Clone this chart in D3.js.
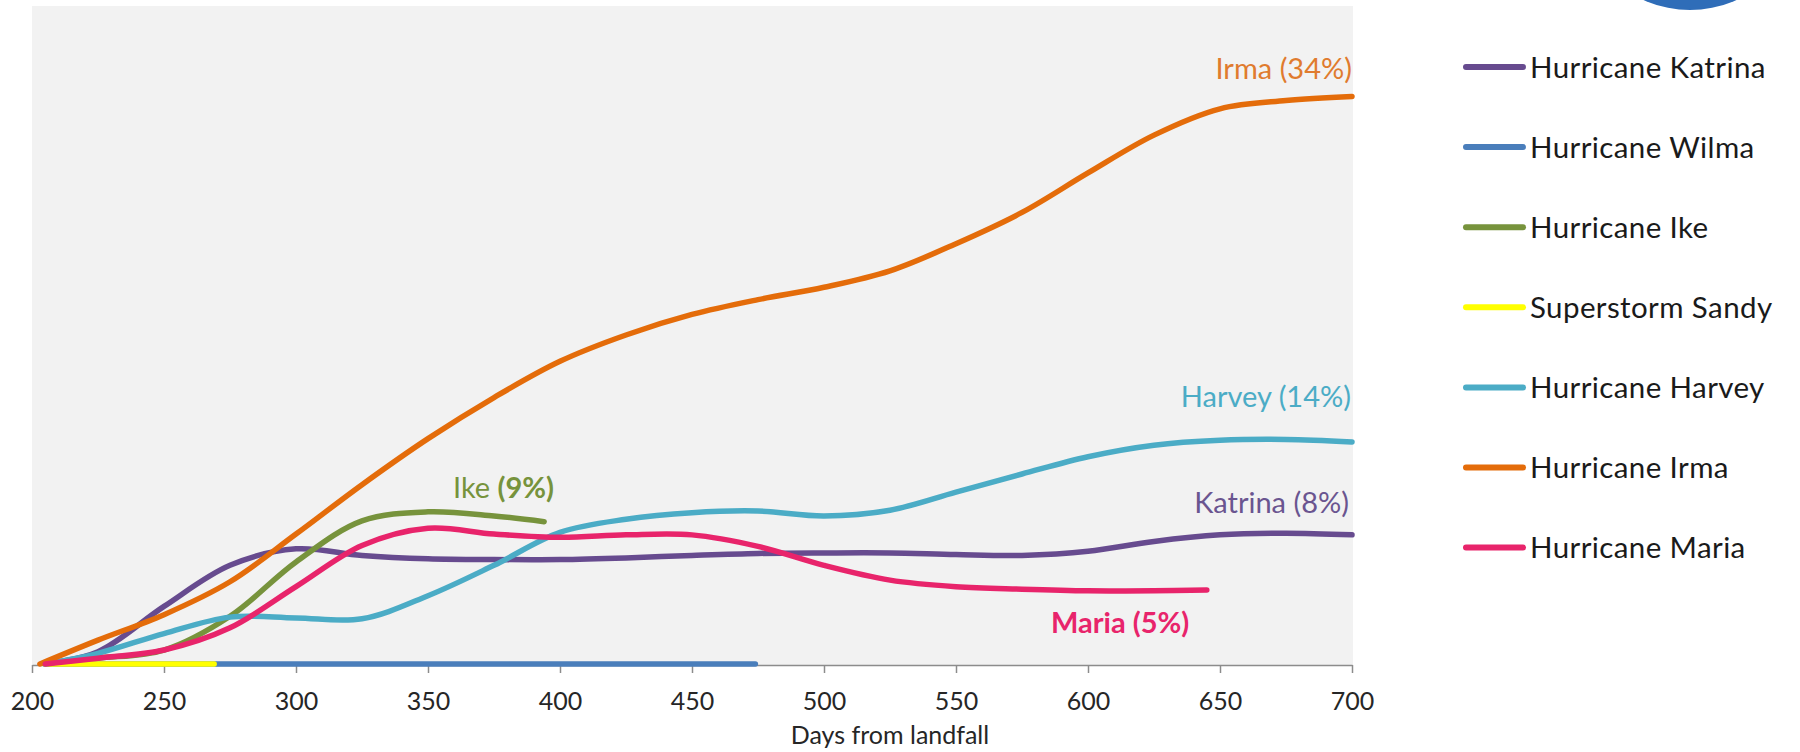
<!DOCTYPE html>
<html>
<head>
<meta charset="utf-8">
<script src="https://cdn.jsdelivr.net/npm/d3@7"></script>
<style>
  html, body { margin: 0; padding: 0; background: #ffffff; }
  svg { display: block; font-family: Lato, "Open Sans", sans-serif; }
</style>
</head>
<body>
<svg id="chart" width="1800" height="752"></svg>
<script>
// ---------------- DATA ----------------
const seriesNames = ["Hurricane Katrina", "Hurricane Wilma", "Hurricane Ike", "Superstorm Sandy",
                     "Hurricane Harvey", "Hurricane Irma", "Hurricane Maria"];
const seriesColors = ["#674B8F", "#4A7EBB", "#77933C", "#FFFF00", "#4BACC6", "#E46C0A", "#E8246B"];

const xTicks = [200, 250, 300, 350, 400, 450, 500, 550, 600, 650, 700];
const xTitle = "Days from landfall";

// days from landfall / share (%)
const katrinaDays = [205, 225, 250, 275, 300, 325, 350, 375, 400, 425, 450, 475, 500, 525, 550, 575, 600, 625, 650, 675, 700];
const katrinaVals = [0, 0.75, 3.5, 6.0, 7.0, 6.6, 6.4, 6.35, 6.35, 6.45, 6.6, 6.72, 6.75, 6.75, 6.65, 6.6, 6.85, 7.45, 7.85, 7.95, 7.85];

const wilmaDays = [205, 474];
const wilmaVals = [0, 0];

const ikeDays = [205, 225, 250, 275, 300, 325, 350, 375, 394];
const ikeVals = [0, 0.35, 0.85, 2.9, 6.2, 8.7, 9.25, 9.0, 8.65];

const sandyDays = [205, 269];
const sandyVals = [0, 0];

const harveyDays = [205, 225, 250, 275, 300, 325, 350, 375, 400, 425, 450, 475, 500, 525, 550, 575, 600, 625, 650, 675, 700];
const harveyVals = [0, 0.65, 1.85, 2.85, 2.8, 2.75, 4.15, 6.0, 8.0, 8.8, 9.2, 9.3, 9.0, 9.35, 10.45, 11.55, 12.6, 13.3, 13.6, 13.65, 13.5];

const irmaDays = [203, 225, 250, 275, 300, 325, 350, 375, 400, 425, 450, 475, 500, 525, 550, 575, 600, 625, 650, 675, 700];
const irmaVals = [0, 1.45, 3.0, 5.0, 7.9, 10.9, 13.7, 16.2, 18.4, 20.0, 21.25, 22.15, 22.9, 23.9, 25.55, 27.45, 29.85, 32.15, 33.75, 34.25, 34.5];

const mariaDays = [205, 225, 250, 275, 300, 325, 350, 375, 400, 425, 450, 475, 500, 525, 550, 575, 600, 625, 645];
const mariaVals = [0, 0.35, 0.85, 2.2, 4.7, 7.2, 8.25, 7.9, 7.7, 7.85, 7.85, 7.15, 6.0, 5.1, 4.7, 4.55, 4.45, 4.45, 4.5];

const allDays = [katrinaDays, wilmaDays, ikeDays, sandyDays, harveyDays, irmaDays, mariaDays];
const allVals = [katrinaVals, wilmaVals, ikeVals, sandyVals, harveyVals, irmaVals, mariaVals];

// end-of-line annotations
const annoText   = ["Irma", "Harvey", "Katrina", "Ike", "Maria"];
const annoPct    = ["(34%)", "(14%)", "(8%)", "(9%)", "(5%)"];
const annoColors = ["#E07B2E", "#4BACC6", "#6A5590", "#77933C", "#E8246B"];

// ---------------- LAYOUT ----------------
const svg = d3.select("#chart");
const plot = { left: 32, right: 1352, top: 6, bottom: 664 };

const x = d3.scaleLinear().domain([200, 700]).range([plot.left, plot.right]);
const y = d3.scaleLinear().domain([0, 40]).range([plot.bottom, plot.top]);

// plot background
svg.append("rect")
  .attr("x", plot.left).attr("y", plot.top)
  .attr("width", plot.right - plot.left + 1).attr("height", plot.bottom - plot.top + 1)
  .attr("fill", "#F2F2F2");

// logo circle (partially visible at top right)
svg.append("circle")
  .attr("cx", 1690).attr("cy", -103).attr("r", 113)
  .attr("fill", "#2F6DB8");

// x axis
const xAxis = d3.axisBottom(x).tickValues(xTicks).tickSize(8).tickPadding(19).tickSizeOuter(0);
const gx = svg.append("g").attr("transform", `translate(0,${plot.bottom + 1})`).call(xAxis);
gx.select(".domain").attr("stroke", "#8C8C8C").attr("stroke-width", 1.5);
gx.selectAll(".tick line").attr("stroke", "#8C8C8C").attr("stroke-width", 1.5);
gx.selectAll(".tick text")
  .attr("font-family", "Lato, sans-serif")
  .attr("font-size", 25)
  .attr("fill", "#262626")
  .attr("dy", "0.71em");

svg.append("text")
  .attr("x", 890).attr("y", 744)
  .attr("text-anchor", "middle")
  .attr("font-size", 25)
  .attr("fill", "#262626")
  .text(xTitle);

// lines
const line = d3.line()
  .x(d => x(d[0]))
  .y(d => y(d[1]))
  .curve(d3.curveCatmullRom.alpha(0.5));

seriesNames.forEach((name, i) => {
  const pts = allDays[i].map((d, j) => [d, allVals[i][j]]);
  svg.append("path")
    .datum(pts)
    .attr("d", line)
    .attr("fill", "none")
    .attr("stroke", seriesColors[i])
    .attr("stroke-width", 5.5)
    .attr("stroke-linecap", "round")
    .attr("stroke-linejoin", "round");
});

// annotations
const annoPos = [
  { x: 1352, y: 79,  anchor: "end",   bold: false, boldPct: false },
  { x: 1351, y: 407, anchor: "end",   bold: false, boldPct: false },
  { x: 1349, y: 513, anchor: "end",   bold: false, boldPct: false },
  { x: 453,  y: 498, anchor: "start", bold: false, boldPct: true },
  { x: 1051, y: 633, anchor: "start", bold: true,  boldPct: true }
];
annoText.forEach((t, i) => {
  const p = annoPos[i];
  const txt = svg.append("text")
    .attr("x", p.x).attr("y", p.y)
    .attr("text-anchor", p.anchor)
    .attr("font-size", 29)
    .attr("fill", annoColors[i]);
  txt.append("tspan").attr("font-weight", p.bold ? 700 : 400).text(t + " ");
  txt.append("tspan").attr("font-weight", p.boldPct ? 700 : 400).text(annoPct[i]);
});

// legend
const legend = svg.append("g");
seriesNames.forEach((name, i) => {
  const ly = 67 + i * 80.1;
  legend.append("line")
    .attr("x1", 1466).attr("x2", 1523)
    .attr("y1", ly).attr("y2", ly)
    .attr("stroke", seriesColors[i])
    .attr("stroke-width", 6)
    .attr("stroke-linecap", "round");
  legend.append("text")
    .attr("x", 1530).attr("y", ly + 10.5)
    .attr("font-size", 29.5)
    .attr("letter-spacing", 0.4)
    .attr("fill", "#1a1a1a")
    .text(name);
});
</script>
</body>
</html>
